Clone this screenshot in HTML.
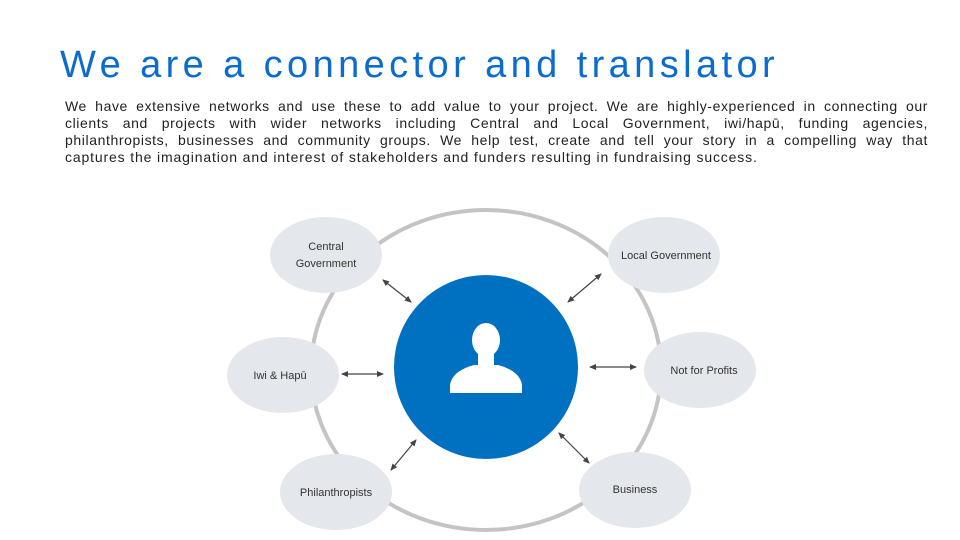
<!DOCTYPE html>
<html><head><meta charset="utf-8"><style>
body{margin:0;width:960px;height:540px;background:#fff;position:relative;overflow:hidden;font-family:"Liberation Sans",sans-serif}
h1{position:absolute;left:60px;top:40px;margin:0;font-weight:normal;font-size:38px;letter-spacing:4.4px;color:#0a6ccf;white-space:nowrap;line-height:50px}
.p{position:absolute;left:65px;top:98px;width:863px;margin:0;font-size:14px;line-height:17px;color:#222;letter-spacing:0.6px}
.p div{text-align:justify;text-align-last:justify;white-space:nowrap;height:17px}
.p div.l{text-align-last:left;letter-spacing:0.85px}
</style></head><body>
<h1>We are a connector and translator</h1>
<div class="p">
<div>We have extensive networks and use these to add value to your project. We are highly-experienced in connecting our</div>
<div>clients and projects with wider networks including Central and Local Government, iwi/hapū, funding agencies,</div>
<div>philanthropists, businesses and community groups. We help test, create and tell your story in a compelling way that</div>
<div class="l">captures the imagination and interest of stakeholders and funders resulting in fundraising success.</div>
</div>
<svg width="960" height="540" style="position:absolute;left:0;top:0" font-family="Liberation Sans, sans-serif" font-size="11" fill="#333">
<defs><marker id="a" markerWidth="8" markerHeight="8" refX="6" refY="4" orient="auto-start-reverse" markerUnits="userSpaceOnUse"><path d="M0,1 L7,4 L0,7z" fill="#444"/></marker></defs>
<ellipse cx="486" cy="370" rx="175" ry="160" fill="none" stroke="#c4c4c4" stroke-width="4"/>
<circle cx="486" cy="367" r="92" fill="#0070c0"/>
<g fill="#fff">
<ellipse cx="486" cy="340" rx="14" ry="17"/>
<rect x="478" y="348" width="16" height="20"/>
<path d="M450,393 L450,385 Q452,371 474,365 L498,365 Q520,371 522,385 L522,393z"/>
</g>
<g fill="#e4e7eb">
<ellipse cx="326" cy="255" rx="56" ry="38"/>
<ellipse cx="664" cy="255" rx="56" ry="38"/>
<ellipse cx="283" cy="375" rx="56" ry="38"/>
<ellipse cx="700" cy="370" rx="56" ry="38"/>
<ellipse cx="336" cy="492" rx="56" ry="38"/>
<ellipse cx="635" cy="490" rx="56" ry="38"/>
</g>
<g stroke="#444" stroke-width="1.2" marker-start="url(#a)" marker-end="url(#a)">
<line x1="383" y1="280" x2="411" y2="302"/>
<line x1="568" y1="302" x2="601" y2="274"/>
<line x1="342" y1="374" x2="383" y2="374"/>
<line x1="590" y1="367" x2="636" y2="367"/>
<line x1="391" y1="470" x2="416" y2="440"/>
<line x1="559" y1="433" x2="589" y2="463"/>
</g>
<g text-anchor="middle">
<text x="326" y="250">Central</text><text x="326" y="267">Government</text>
<text x="666" y="259">Local Government</text>
<text x="280" y="379">Iwi &amp; Hapū</text>
<text x="704" y="374">Not for Profits</text>
<text x="336" y="496">Philanthropists</text>
<text x="635" y="493">Business</text>
</g>
</svg>
</body></html>
